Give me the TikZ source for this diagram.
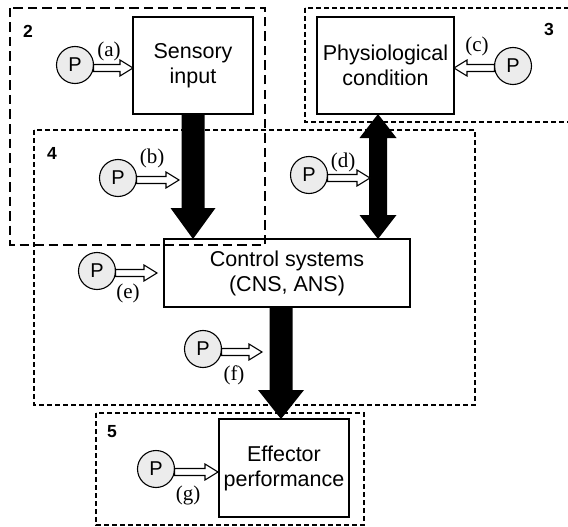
\documentclass[tikz,border=0pt]{standalone}
\usepackage{fontspec}
\setmainfont{Liberation Serif}
\setsansfont{Liberation Sans}
\usetikzlibrary{calc}
\newcommand\hollowarrow[3]{\draw[hollow] ($(#1)+(0,-3.5)$) -- ($(#2)+({-(#3)*13},-3.5)$) -- ($(#2)+({-(#3)*13},-8)$) -- (#2) -- ($(#2)+({-(#3)*13},8)$) -- ($(#2)+({-(#3)*13},3.5)$) -- ($(#1)+(0,3.5)$) -- cycle;}
\newcommand\fatdown[5]{\fill ($(#1)+(-#3,0)$) -- ($(#2)+(-#3,-#5)$) -- ($(#2)+(-#4,-#5)$) -- (#2) -- ($(#2)+(#4,-#5)$) -- ($(#2)+(#3,-#5)$) -- ($(#1)+(#3,0)$) -- cycle;}
\newcommand\fatboth[5]{\fill (#1) -- ($(#1)+(#4,#5)$) -- ($(#1)+(#3,#5)$) -- ($(#2)+(#3,-#5)$) -- ($(#2)+(#4,-#5)$) -- (#2) -- ($(#2)+(-#4,-#5)$) -- ($(#2)+(-#3,-#5)$) -- ($(#1)+(-#3,#5)$) -- ($(#1)+(-#4,#5)$) -- cycle;}
\begin{document}
\begin{tikzpicture}[x=1pt,y=-1pt,
 box/.style={draw,line width=1.4pt,fill=white,align=center,font=\fontsize{21.5}{25}\selectfont\sffamily,inner sep=0pt,outer sep=0pt},
 pnode/.style={circle,draw,line width=1.1pt,fill=gray!15,minimum size=37pt,inner sep=0pt,outer sep=0pt,font=\fontsize{20}{20}\selectfont\sffamily},
 lbl/.style={font=\fontsize{21}{21}\selectfont\rmfamily,inner sep=0pt},
 num/.style={font=\fontsize{17.5}{17.5}\selectfont\sffamily\bfseries,inner sep=0pt},
 thindash/.style={line width=1.2pt,dash pattern=on 5pt off 3pt},
 thickdash/.style={line width=2.6pt,dash pattern=on 9.5pt off 5pt},
 hollow/.style={draw,line width=1.1pt,fill=white,line join=miter}]
\useasboundingbox (0,0) rectangle (568,527);
% dashed regions
\draw[thindash] (34,130) rectangle (475,405);
\draw[thindash] (305,8) rectangle (575,122);
\draw[thindash] (96,413) rectangle (364,525);
% boxes
\node[box,minimum width=120pt,minimum height=97pt] (sens) at (193,65.5) {Sensory\\input};
\node[box,minimum width=137pt,minimum height=97pt] (phys) at (385.5,65.5) {Physiological\\condition};
\node[box,minimum width=246pt,minimum height=68pt] (ctrl) at (287,273) {Control systems\\(CNS, ANS)};
\node[box,minimum width=130pt,minimum height=98pt] (eff) at (284,468) {Effector\\performance};
% fat arrows
\coordinate (f1s) at (sens.south);
\coordinate (f1e) at (sens.south |- ctrl.north);
\fatdown{f1s}{f1e}{11.5}{22.5}{31}
\coordinate (f2s) at ($(phys.south)+(-7.5,0)$);
\coordinate (f2e) at (f2s |- ctrl.north);
\fatboth{f2s}{f2e}{9}{18.5}{24}
\coordinate (f3e) at ($(eff.north)+(-3,0)$);
\coordinate (f3s) at (f3e |- ctrl.south);
\fatdown{f3s}{f3e}{11.5}{23}{29}
% P circles
\node[pnode] (pa) at (75,65) {P};
\node[pnode] (pb) at (118,178) {P};
\node[pnode] (pc) at (513,66) {P};
\node[pnode] (pd) at (309,175) {P};
\node[pnode] (pe) at (97,271) {P};
\node[pnode] (pf) at (203,349) {P};
\node[pnode] (pg) at (156,469) {P};
% hollow arrows
\coordinate (a0) at ($(pa.east)+(0,3)$);
\coordinate (a1) at (sens.west |- a0);
\hollowarrow{a0}{a1}{1}
\coordinate (b0) at ($(pb.east)+(0,2)$);
\coordinate (b1) at ($(f1s |- b0)+(-14,0)$);
\hollowarrow{b0}{b1}{1}
\coordinate (c0) at ($(pc.west)+(0,2)$);
\coordinate (c1) at (phys.east |- c0);
\hollowarrow{c0}{c1}{-1}
\coordinate (d0) at ($(pd.east)+(0,3)$);
\coordinate (d1) at ($(f2s |- d0)+(-8,0)$);
\hollowarrow{d0}{d1}{1}
\coordinate (e0) at ($(pe.east)+(0,2)$);
\coordinate (e1) at ($(ctrl.west |- e0)+(-7,0)$);
\hollowarrow{e0}{e1}{1}
\coordinate (g0) at ($(pf.east)+(0,3)$);
\coordinate (g1) at ($(f3s |- g0)+(-19,0)$);
\hollowarrow{g0}{g1}{1}
\coordinate (h0) at ($(pg.east)+(0,3)$);
\coordinate (h1) at ($(eff.west |- h0)+(-1,0)$);
\hollowarrow{h0}{h1}{1}
% labels
\node[lbl] (la) at (109,51) {(a)};
\node[lbl] (lb) at (152,158) {(b)};
\node[lbl] (lc) at (477,46) {(c)};
\node[lbl] (ld) at (343,162) {(d)};
\node[lbl] (le) at (128,293) {(e)};
\node[lbl] (lf) at (234,375) {(f)};
\node[lbl] (lg) at (188,495) {(g)};
\node[num] (n2) at (28,31) {2};
\node[num] (n3) at (549,29) {3};
\node[num] (n4) at (52,153) {4};
\node[num] (n5) at (112,432) {5};
% thick dashed region 2
\draw[thickdash] (10,8) rectangle (265,245);
\end{tikzpicture}
\end{document}
